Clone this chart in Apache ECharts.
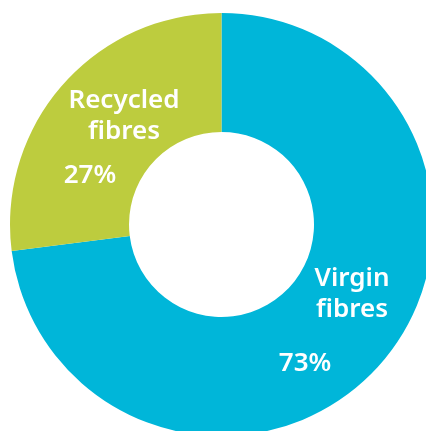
<!DOCTYPE html>
<html>
<head>
<meta charset="utf-8">
<script src="https://cdn.jsdelivr.net/npm/echarts@6/dist/echarts.min.js"></script>
<style>
html,body{margin:0;padding:0;background:#fff;}
#chart{width:426px;height:431px;}
</style>
</head>
<body>
<div id="chart"></div>
<script>
var categories = ['Virgin fibres', 'Recycled fibres'];
var values = [73, 27];
var labelLines = [['Virgin', 'fibres'], ['Recycled', 'fibres']];
var percentLabels = ['73%', '27%'];
var colors = ['#00b6d9', '#bdcc3e'];

var chart = echarts.init(document.getElementById('chart'), null, {renderer: 'canvas'});
var font = '"Noto Sans", "Open Sans", sans-serif';
var textStyle = function (txt, size) {
  return {text: txt, fill: '#ffffff', font: '600 ' + size + 'px ' + font, align: 'center', verticalAlign: 'middle', lineHeight: 31};
};
chart.setOption({
  animation: false,
  series: [{
    type: 'pie',
    center: [221.5, 224.5],
    radius: [92.5, 211.5],
    startAngle: 90,
    clockwise: true,
    label: {show: false},
    labelLine: {show: false},
    silent: true,
    data: categories.map(function (c, i) {
      return {name: c, value: values[i], itemStyle: {color: colors[i]}};
    })
  }],
  graphic: [
    {type: 'text', z: 100, x: 352, y: 294, style: textStyle(labelLines[0].join('\n'), 26)},
    {type: 'text', z: 100, x: 305, y: 364, style: textStyle(percentLabels[0], 26)},
    {type: 'text', z: 100, x: 124, y: 116, style: textStyle(labelLines[1].join('\n'), 26)},
    {type: 'text', z: 100, x: 90, y: 176, style: textStyle(percentLabels[1], 26)}
  ]
});
</script>
</body>
</html>
